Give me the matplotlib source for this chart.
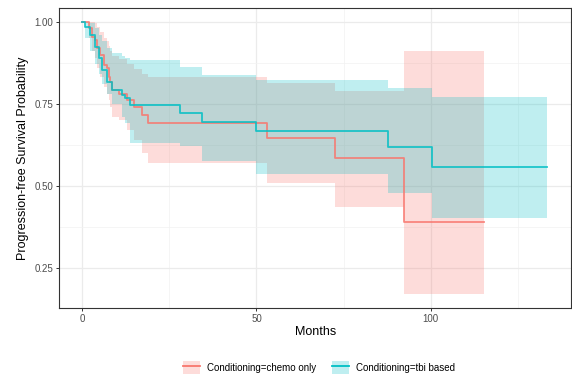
import matplotlib
matplotlib.use("Agg")
import matplotlib.pyplot as plt
from matplotlib.patches import Patch
from matplotlib.lines import Line2D

plt.rcParams['font.family'] = ['Liberation Sans', 'DejaVu Sans']

# chemo only (lecturas aproximadas de la figura)
time_chemo = [0, 1.8, 2.8, 3.7, 4.2, 5.2, 6.1, 7.1, 7.6, 8.0, 8.5, 10.4, 12.8, 14.7, 17.1, 19.0, 53.0, 72.6, 92.4, 115.3]
surv_chemo = [1.0, 0.980, 0.954, 0.944, 0.919, 0.898, 0.868, 0.858, 0.832, 0.817, 0.791, 0.781, 0.761, 0.740, 0.715, 0.690, 0.644, 0.585, 0.389, 0.389]
upper_chemo = [1.0, 1.0, 1.0, 0.995, 0.985, 0.97, 0.95, 0.94, 0.925, 0.91, 0.895, 0.885, 0.87, 0.855, 0.84, 0.832, 0.812, 0.788, 0.911, 0.911]
lower_chemo = [1.0, 0.95, 0.91, 0.89, 0.86, 0.83, 0.80, 0.78, 0.76, 0.74, 0.71, 0.70, 0.67, 0.64, 0.60, 0.568, 0.507, 0.435, 0.169, 0.169]

# tbi based
time_tbi = [0, 0.9, 2.3, 3.7, 4.7, 5.6, 7.1, 8.5, 11.4, 12.3, 13.8, 28.1, 34.3, 49.9, 87.7, 100.3, 133.5]
surv_tbi = [1.0, 0.985, 0.959, 0.924, 0.888, 0.853, 0.817, 0.791, 0.776, 0.766, 0.746, 0.722, 0.695, 0.668, 0.618, 0.557, 0.557]
upper_tbi = [1.0, 1.0, 0.995, 0.98, 0.96, 0.94, 0.92, 0.905, 0.895, 0.89, 0.883, 0.863, 0.837, 0.822, 0.799, 0.771, 0.771]
lower_tbi = [1.0, 0.95, 0.91, 0.87, 0.84, 0.81, 0.78, 0.75, 0.71, 0.69, 0.629, 0.62, 0.575, 0.537, 0.478, 0.403, 0.403]

labels = ["Conditioning=chemo only", "Conditioning=tbi based"]
col_red = "#F8766D"
col_teal = "#00BFC4"

fig = plt.figure(figsize=(5.72, 3.79), dpi=100)
ax = fig.add_axes([0.1037, 0.1873, 0.8945, 0.7917])

# bandas de confianza
ax.fill_between(time_chemo, lower_chemo, upper_chemo, step="post", color=col_red, alpha=0.25, lw=0)
ax.fill_between(time_tbi, lower_tbi, upper_tbi, step="post", color=col_teal, alpha=0.25, lw=0)
# curvas
ax.step(time_chemo, surv_chemo, where="post", color=col_red, lw=1.3, alpha=0.85)
ax.step(time_tbi, surv_tbi, where="post", color=col_teal, lw=1.3, alpha=0.85)

ax.set_xlim(-6.6, 140.3)
ax.set_ylim(0.127, 1.042)
ax.set_xticks([0, 50, 100])
ax.set_xticks([25, 75, 125], minor=True)
ax.set_yticks([0.25, 0.50, 0.75, 1.00])
ax.set_yticklabels(["0.25", "0.50", "0.75", "1.00"])
ax.set_yticks([0.375, 0.625, 0.875], minor=True)
ax.grid(which="major", color="#EBEBEB", lw=0.9)
ax.grid(which="minor", color="#F2F2F2", lw=0.5)
ax.set_axisbelow(True)
ax.tick_params(which="major", length=2.5, width=0.7, color="#333333", labelsize=7, labelcolor="#4D4D4D", pad=2)
ax.tick_params(which="minor", length=0)
for s in ax.spines.values():
    s.set_color("#333333")
    s.set_linewidth(0.8)

ax.set_xlabel("Months", fontsize=9, labelpad=1)
ax.set_ylabel("Progression-free Survival Probability", fontsize=9, labelpad=4)

handles = [
    (Patch(facecolor=col_red, alpha=0.25, lw=0), Line2D([], [], color=col_red, lw=1.3)),
    (Patch(facecolor=col_teal, alpha=0.25, lw=0), Line2D([], [], color=col_teal, lw=1.3)),
]
fig.legend(handles, labels, loc="center", bbox_to_anchor=(0.558, 0.03), ncol=2,
           frameon=False, fontsize=7, handlelength=1.7, handleheight=1.6,
           columnspacing=1.6, handletextpad=0.8)

fig.savefig("out.png", dpi=100)
